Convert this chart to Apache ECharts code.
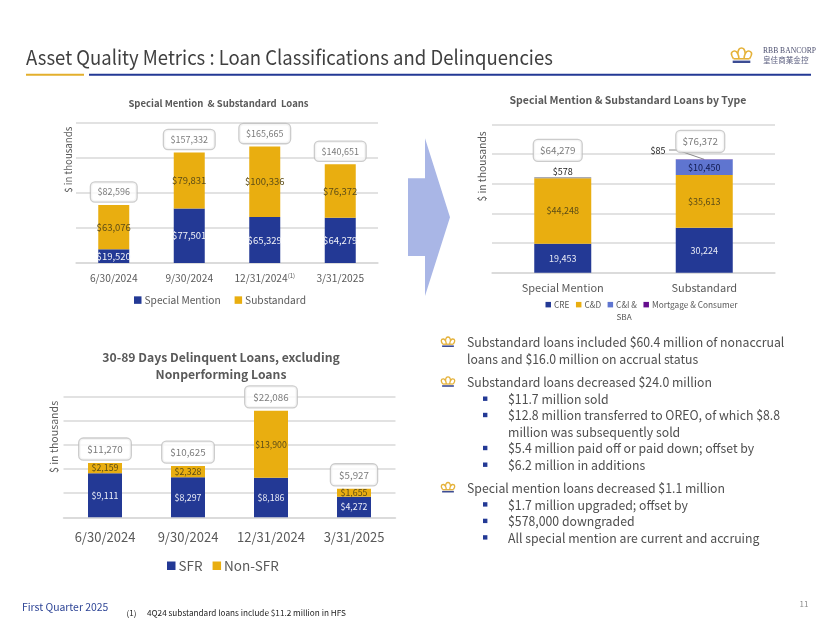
<!DOCTYPE html>
<html><head><meta charset="utf-8">
<style>html,body{margin:0;padding:0;background:#fff}#c{width:825px;height:638px}</style>
<script src="https://cdn.jsdelivr.net/npm/echarts@6/dist/echarts.min.js"></script>
</head><body><div id="c"></div>
<script>
const dates1 = ['6/30/2024','9/30/2024','12/31/2024','3/31/2025'];
const specialMention = [19520,77501,65329,64279];
const substandard = [63076,79831,100336,76372];
const totals1 = [82596,157332,165665,140651];

const types = ['Special Mention','Substandard'];
const cre = [19453,30224];
const cd = [44248,35613];
const ci = [578,10450];
const mortgage = [0,85];
const totals2 = [64279,76372];

const dates3 = ['6/30/2024','9/30/2024','12/31/2024','3/31/2025'];
const sfr = [9111,8297,8186,4272];
const nonSfr = [2159,2328,13900,1655];
const totals3 = [11270,10625,22086,5927];

const slideTitle = 'Asset Quality Metrics : Loan Classifications and Delinquencies';
const title1 = 'Special Mention  & Substandard  Loans';
const title2 = 'Special Mention & Substandard Loans by Type';
const title3 = '30-89 Days Delinquent Loans, excluding\nNonperforming Loans';
const axisName = '$ in thousands';
const footer = 'First Quarter 2025';
const footnoteMark = '(1)';
const footnote = '4Q24 substandard loans include $11.2 million in HFS';
const pageNo = '11';
const bullets = [
  ['Substandard loans included $60.4 million of nonaccrual', 0, 342.5],
  ['loans and $16.0 million on accrual status', -1, 358.8],
  ['Substandard loans decreased $24.0 million', 0, 382.3],
  ['$11.7 million sold', 1, 399],
  ['$12.8 million transferred to OREO, of which $8.8', 1, 415.3],
  ['million was subsequently sold', -2, 431.7],
  ['$5.4 million paid off or paid down; offset by', 1, 448.3],
  ['$6.2 million in additions', 1, 465],
  ['Special mention loans decreased $1.1 million', 0, 488],
  ['$1.7 million upgraded; offset by', 1, 504.7],
  ['$578,000 downgraded', 1, 521.2],
  ['All special mention are current and accruing', 1, 537.7]
];

const FONT = '"Noto Sans CJK SC","Noto Sans",sans-serif';
const BLUE = '#233995', GOLD = '#e9ae10', PERI = '#5f75d0', PURPLE = '#660e8e';
const GREY = '#595959', GRID = '#d9d9d9';
const usd = v => '$' + Number(v).toLocaleString('en-US');
const plain = v => Number(v).toLocaleString('en-US');

function bar(name, data, color, gi, w, fs, txt, fmt, extra) {
  return Object.assign({
    type:'bar', name, data, stack:'s'+gi, xAxisIndex:gi, yAxisIndex:gi, barWidth:w,
    itemStyle:{color},
    label:{show:true, position:'inside', fontFamily:FONT, fontSize:fs, color:txt,
      formatter:p => (fmt||usd)(p.value)}
  }, extra||{});
}
function total(name, data, gi, fs, pad, overrides) {
  return {
    type:'scatter', name, data:data.map((v,i)=>Object.assign({value:v}, overrides?{label:overrides[i]}:{})),
    xAxisIndex:gi, yAxisIndex:gi, symbolSize:1, itemStyle:{color:'rgba(0,0,0,0)'}, silent:true, z:5,
    label:{show:true, position:'top', distance:3, fontFamily:FONT, fontSize:fs, color:GREY,
      backgroundColor:'#fff', borderColor:'#bfbfbf', borderWidth:1.3, borderRadius:4,
      padding:pad, formatter:p => usd(p.value)}
  };
}
function xAxis(gi, data, fs, margin, formatter) {
  return {type:'category', gridIndex:gi, data,
    axisLine:{lineStyle:{color:GRID, width:1.5}}, axisTick:{show:false},
    axisLabel:{fontFamily:FONT, fontSize:fs, color:GREY, margin, interval:0,
      formatter:formatter||undefined,
      rich:{a:{fontFamily:FONT,fontSize:fs,color:GREY},s:{fontFamily:FONT,fontSize:6,color:GREY,verticalAlign:'top'}}}};
}
function yAxis(gi, max, interval, gap, fs, pad) {
  return {type:'value', gridIndex:gi, min:0, max, interval,
    name:axisName, nameLocation:'middle', nameGap:gap,
    nameTextStyle:{fontFamily:FONT, fontSize:fs, color:GREY, padding:pad},
    axisLabel:{show:false}, axisLine:{show:false}, axisTick:{show:false},
    splitLine:{lineStyle:{color:GRID, width:1.5}}};
}
function legend(names, left, top, size, fs, gap, fmt) {
  return {data:names, left, top, itemWidth:size, itemHeight:size, itemGap:gap, padding:0,
    icon:'rect', selectedMode:false, formatter:fmt||undefined,
    textStyle:{fontFamily:FONT, fontSize:fs, color:GREY, padding:[0,0,0,-2]}};
}
function title(text, cx, top, fs, lh) {
  return {text, left:cx, top, textAlign:'center', padding:0,
    textStyle:{fontFamily:FONT, fontSize:fs, fontWeight:'bold', color:GREY, lineHeight:lh}};
}
function txt(text, x, y, fs, color, extra, elExtra) {
  return Object.assign({type:'text', x, y, silent:true,
    style:Object.assign({text, fontFamily:FONT, fontSize:fs, fill:color, verticalAlign:'middle', align:'left'}, extra||{})}, elExtra||{});
}
function crown(x, y, w, h, lw) {
  const px = (a,b) => [x + a*w, y + b*h];
  const stroke = {fill:'none', stroke:'#e5b23a', lineWidth:lw};
  return [
    {type:'polyline', silent:true, shape:{smooth:0.4, points:[px(.12,.72),px(.02,.35),px(.18,.2),px(.32,.38),px(.38,.72)]}, style:stroke},
    {type:'polyline', silent:true, shape:{smooth:0.4, points:[px(.32,.38),px(.38,.08),px(.5,0),px(.62,.08),px(.68,.38)]}, style:stroke},
    {type:'polyline', silent:true, shape:{smooth:0.4, points:[px(.62,.72),px(.68,.38),px(.82,.2),px(.98,.35),px(.88,.72)]}, style:stroke},
    {type:'line', silent:true, shape:{x1:x+.12*w,y1:y+.72*h,x2:x+.88*w,y2:y+.72*h}, style:stroke},
    {type:'rect', silent:true, shape:{x:x+w*0.08, y:y+h*0.84, width:w*0.84, height:h*0.16}, style:{fill:'#3c4c93'}}
  ];
}

const g = [
  txt(slideTitle, 26, 57, 20.3, '#404040', null, {scaleX:0.913}),
  {type:'rect', silent:true, shape:{x:26,y:73.8,width:58,height:2}, style:{fill:'#e3af2c'}},
  {type:'rect', silent:true, shape:{x:89,y:73.8,width:722,height:2}, style:{fill:BLUE}},
  ...crown(731, 48, 21, 15, 1.6),
  txt('RBB BANCORP', 763, 50.5, 7.6, '#4d5070', {fontFamily:'"Liberation Serif",serif'}),
  txt('皇佳商業金控', 763, 60, 7.6, '#5d6080'),
  {type:'polygon', silent:true, shape:{points:[[408,178.3],[425,178.3],[425,138.3],[450,217.3],[425,296],[425,256],[408,256]]}, style:{fill:'#a9b6e6'}},
  txt('SBA', 624, 317, 8.2, GREY, {align:'center'}),
  txt(footer, 22, 607.5, 10.4, '#2e4596'),
  txt(footnoteMark, 126.5, 613, 8, '#222'),
  txt(footnote, 147, 613, 8.2, '#222'),
  txt(pageNo, 804, 604, 8, '#8a8a8a', {align:'center'})
];
bullets.forEach(([t, lvl, y]) => {
  const x = lvl === 0 || lvl === -1 ? 467 : 508;
  g.push(txt(t, x, y, 13, '#4f4f4f', null, {scaleX:0.945}));
  if (lvl === 0) g.push(...crown(441, y - 5.5, 14, 10, 1.3));
  if (lvl === 1) g.push({type:'rect', silent:true, shape:{x:483, y:y-2.5, width:4.4, height:4.4}, style:{fill:BLUE}});
});

const chart = echarts.init(document.getElementById('c'), null, {renderer:'canvas'});
chart.setOption({
  animation:false, backgroundColor:'#fff',
  title:[title(title1, 218.5, 96.5, 9.5, 13), title(title2, 628, 93, 10.5, 14), title(title3, 221, 348.5, 12.2, 17)],
  grid:[
    {left:76, top:122.5, width:302, height:140.5},
    {left:492, top:124.3, width:283, height:148.4},
    {left:63.5, top:396.7, width:332, height:120.6}
  ],
  xAxis:[
    xAxis(0, dates1, 10.2, 10, v => v === '12/31/2024' ? '{a|'+v+'}{s|(1)}' : v),
    xAxis(1, types, 11, 10),
    xAxis(2, dates3, 13, 13)
  ],
  yAxis:[
    yAxis(0, 200000, 50000, 3, 9.7, [0,0,0,66]),
    yAxis(1, 100000, 20000, 5, 10.3, [0,0,0,64]),
    yAxis(2, 25000, 5000, 4, 10.6, [0,0,0,40])
  ],
  legend:[
    legend(['Special Mention','Substandard'], 134, 295, 7.5, 10.2, 14),
    legend(['CRE','C&D','C&I & SBA','Mortgage & Consumer'], 545.5, 300.5, 5.5, 8.3, 6.5, n => n === 'C&I & SBA' ? 'C&I &' : n),
    legend(['SFR','Non-SFR'], 167, 559, 8.5, 13.5, 10)
  ],
  series:[
    bar('Special Mention', specialMention, BLUE, 0, 31, 9.5, '#f2f3f8'),
    bar('Substandard', substandard, GOLD, 0, 31, 9.5, '#5c4c17'),
    total('Total 1', totals1, 0, 9, [5,6.5,5,6.5]),
    bar('CRE', cre, BLUE, 1, 57, 9, '#e8eaf4', plain),
    bar('C&D', cd, GOLD, 1, 57, 9, '#5c4c17'),
    bar('C&I & SBA', ci.map((v,i)=> i===0
        ? {value:v, itemStyle:{color:'#8f8f98'}, label:{position:'top', distance:1.5, color:'#222'}}
        : v), PERI, 1, 57, 9, '#101a50'),
    bar('Mortgage & Consumer', mortgage.map(v => v === 0
        ? {value:v, label:{show:false}}
        : {value:v, label:{show:true, position:'top', color:'#222', distance:0}}),
      PURPLE, 1, 57, 9, '#222', null, {labelLayout:p => p.dataIndex === 1 ? {x:658, y:151, align:'center', verticalAlign:'middle'} : {}}),
    total('Total 2', totals2, 1, 9.9, [5.5,6,5.5,6], [{distance:16, offset:[-5,0]},{distance:7, offset:[-4,0]}]),
    bar('SFR', sfr, BLUE, 2, 34, 8.8, '#eef0f8'),
    bar('Non-SFR', nonSfr, GOLD, 2, 34, 8.8, '#5c4c17'),
    total('Total 3', totals3, 2, 9.8, [5.5,8,5.5,8])
  ],
  graphic:{elements:g}
});
// Leader for the small Mortgage & Consumer segment, anchored to the bar top through the axes.
const anchor = chart.convertToPixel({gridIndex:1}, [types[1], totals2[1]]);
chart.setOption({graphic:{elements:[{id:'leader', type:'polyline', silent:true, z:1,
  shape:{points:[[669,150],[677,150],anchor]}, style:{fill:'none', stroke:'#8a8a8a', lineWidth:1}}]}});
</script></body></html>
